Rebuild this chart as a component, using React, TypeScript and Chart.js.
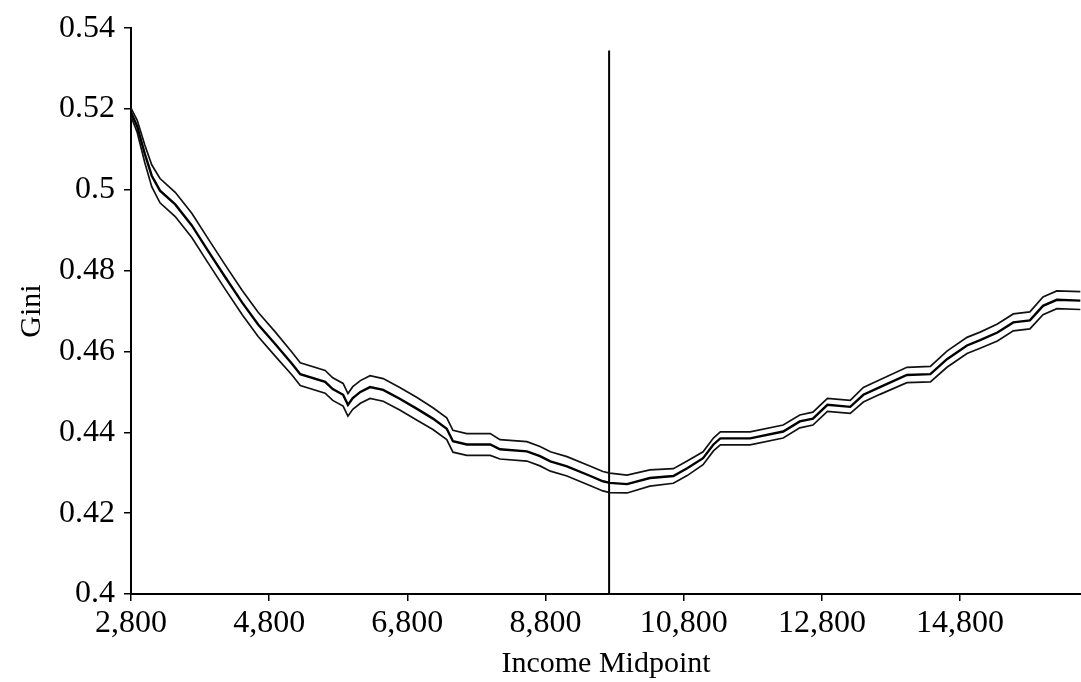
import React, { useEffect, useRef } from "react";
import { Chart, registerables } from "chart.js";

Chart.register(...registerables);

const incomeMidpoints = [
  2800, 2890, 3000, 3100, 3220, 3440, 3680, 3920, 4160, 4410, 4640, 4890, 5130, 5250, 5610, 5720,
  5870, 5940, 6010, 6120, 6260, 6450, 6690, 6940, 7170, 7370, 7460, 7660, 8000, 8140, 8530, 8720,
  8870, 9110, 9450, 9630, 9730, 9980, 10310, 10650, 10850, 11080, 11230, 11330, 11760, 12240, 12480,
  12670, 12880, 13210, 13400, 13640, 14030, 14370, 14610, 14900, 15090, 15340, 15570, 15810, 16000,
  16200, 16540,
];

const giniEstimate = [
  0.5192, 0.5157, 0.5089, 0.5035, 0.4998, 0.4964, 0.4912, 0.4848, 0.4785, 0.4721, 0.4667, 0.4618,
  0.457, 0.4544, 0.4525, 0.4507, 0.4493, 0.4468, 0.4485, 0.45, 0.4512, 0.4505, 0.4483, 0.4458,
  0.4434, 0.4409, 0.4378, 0.437, 0.437, 0.4358, 0.4353, 0.4341, 0.4328, 0.4316, 0.4292, 0.4279,
  0.4275, 0.4272, 0.4287, 0.4292, 0.4311, 0.4336, 0.437, 0.4385, 0.4385, 0.4402, 0.4427, 0.4434,
  0.4468, 0.4463, 0.4493, 0.4512, 0.4542, 0.4544, 0.4581, 0.4615, 0.4628, 0.4647, 0.4672, 0.4677,
  0.4713, 0.4728, 0.4726,
];

const giniUpper = [
  0.5202, 0.5172, 0.5111, 0.5062, 0.5028, 0.4994, 0.4942, 0.4878, 0.4815, 0.4751, 0.4697, 0.4648,
  0.4598, 0.4572, 0.4553, 0.4535, 0.4521, 0.4496, 0.4513, 0.4528, 0.454, 0.4533, 0.4511, 0.4486,
  0.4461, 0.4436, 0.4405, 0.4397, 0.4397, 0.4382, 0.4377, 0.4365, 0.4352, 0.434, 0.4316, 0.4303,
  0.4299, 0.4294, 0.4307, 0.431, 0.4329, 0.4352, 0.4386, 0.4401, 0.4401, 0.4418, 0.4443, 0.445,
  0.4484, 0.4479, 0.4511, 0.453, 0.4561, 0.4563, 0.4601, 0.4635, 0.4648, 0.4668, 0.4693, 0.4698,
  0.4735, 0.475, 0.4748,
];

const giniLower = [
  0.5182, 0.5142, 0.5067, 0.5008, 0.4968, 0.4934, 0.4882, 0.4818, 0.4755, 0.4691, 0.4637, 0.4588,
  0.4542, 0.4516, 0.4497, 0.4479, 0.4465, 0.444, 0.4457, 0.4472, 0.4484, 0.4477, 0.4455, 0.443,
  0.4407, 0.4382, 0.4351, 0.4343, 0.4343, 0.4334, 0.4329, 0.4317, 0.4304, 0.4292, 0.4268, 0.4255,
  0.4251, 0.425, 0.4267, 0.4274, 0.4293, 0.432, 0.4354, 0.4369, 0.4369, 0.4386, 0.4411, 0.4418,
  0.4452, 0.4447, 0.4475, 0.4494, 0.4523, 0.4525, 0.4561, 0.4595, 0.4608, 0.4626, 0.4651, 0.4656,
  0.4691, 0.4706, 0.4704,
];

const markerX = [9720, 9720];
const markerY = [0.4, 0.5345];

const xTicks = [2800, 4800, 6800, 8800, 10800, 12800, 14800];
const yTicks = [0.4, 0.42, 0.44, 0.46, 0.48, 0.5, 0.52, 0.54];

const FONT = "'Liberation Serif', 'Times New Roman', serif";

export default function App() {
  const ref = useRef<HTMLCanvasElement | null>(null);

  useEffect(() => {
    document.body.style.margin = "0";
    const canvas = ref.current;
    if (!canvas) return;
    const toPts = (xs: number[], ys: number[]) => xs.map((x, i) => ({ x, y: ys[i] }));
    const chart = new Chart(canvas, {
      type: "line",
      data: {
        datasets: [
          {
            data: toPts(incomeMidpoints, giniUpper),
            borderColor: "#111",
            borderWidth: 1.7,
            pointRadius: 0,
            tension: 0,
          },
          {
            data: toPts(incomeMidpoints, giniEstimate),
            borderColor: "#000",
            borderWidth: 2.4,
            pointRadius: 0,
            tension: 0,
          },
          {
            data: toPts(incomeMidpoints, giniLower),
            borderColor: "#111",
            borderWidth: 1.7,
            pointRadius: 0,
            tension: 0,
          },
          {
            data: toPts(markerX, markerY),
            borderColor: "#000",
            borderWidth: 2,
            pointRadius: 0,
          },
        ],
      },
      options: {
        animation: false,
        responsive: false,
        layout: { padding: { top: 23, left: 0, right: 0, bottom: 0 } },
        plugins: { legend: { display: false }, tooltip: { enabled: false } },
        scales: {
          x: {
            type: "linear",
            min: 2800,
            max: 16550,
            afterBuildTicks: (s: any) => {
              s.ticks = xTicks.map((v) => ({ value: v }));
            },
            afterFit: (s: any) => {
              s.height = 88;
            },
            grid: { drawOnChartArea: false, tickLength: 7, color: "#000", lineWidth: 1.5 },
            border: { display: true, color: "#000", width: 2 },
            ticks: {
              color: "#000",
              font: { family: FONT, size: 32 },
              padding: 3,
              maxRotation: 0,
              autoSkip: false,
              callback: (v: any) => Number(v).toLocaleString("en-US"),
            },
            title: {
              display: true,
              text: "Income Midpoint",
              color: "#000",
              font: { family: FONT, size: 30 },
              padding: { top: 0, bottom: 0 },
            },
          },
          y: {
            type: "linear",
            min: 0.4,
            max: 0.54,
            afterBuildTicks: (s: any) => {
              s.ticks = yTicks.map((v) => ({ value: v }));
            },
            afterFit: (s: any) => {
              s.width = 131;
            },
            grid: { drawOnChartArea: false, tickLength: 7, color: "#000", lineWidth: 1.5 },
            border: { display: true, color: "#000", width: 2 },
            ticks: {
              color: "#000",
              font: { family: FONT, size: 32 },
              padding: 9,
              autoSkip: false,
              callback: (v: any) => String(Number(Number(v).toFixed(2))),
            },
            title: {
              display: true,
              text: "Gini",
              color: "#000",
              font: { family: FONT, size: 30 },
              padding: { top: 14, bottom: 0 },
            },
          },
        },
      },
    });
    return () => chart.destroy();
  }, []);

  return (
    <div style={{ width: 1081, height: 682, background: "#fff" }}>
      <canvas ref={ref} width={1081} height={682} />
    </div>
  );
}
